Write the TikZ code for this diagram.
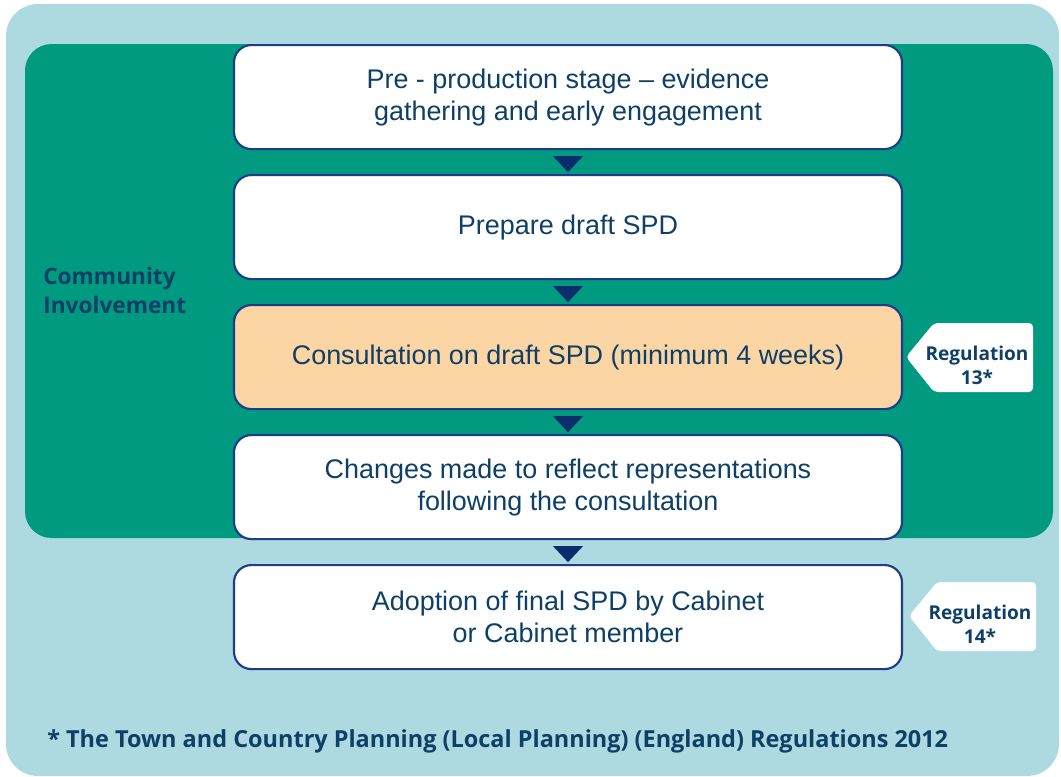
\documentclass[tikz,border=0pt]{standalone}
\usepackage{fontspec}
\setmainfont{Liberation Sans}
\newfontfamily\boldsans{Open Sans}
\usetikzlibrary{calc}
\definecolor{lightbg}{HTML}{ADD9E1}
\definecolor{greenbg}{HTML}{009A80}
\definecolor{navy}{HTML}{1F3C88}
\definecolor{trinavy}{HTML}{0B2D6E}
\definecolor{txtblue}{HTML}{0E3F66}
\definecolor{orangefill}{HTML}{FCD5A5}
\tikzset{
  stepbox/.style={draw=navy, line width=1.6pt, rounded corners=13pt, fill=white,
    minimum width=668*0.75pt, minimum height=104*0.75pt, align=center,
    text=txtblue, font=\fontsize{20.2}{24}\selectfont, anchor=north},
  tri/.style={fill=trinavy},
  tagshape/.style={fill=white, rounded corners=3pt},
  tagtext/.style={text=txtblue, font=\boldsans\bfseries\fontsize{14.3}{18}\selectfont, align=center},
}
\begin{document}
\begin{tikzpicture}[x=0.75pt, y=-0.75pt]
\useasboundingbox (0,0) rectangle (1061,776);
\fill[lightbg, rounded corners=24pt] (6,4) rectangle (1059,776);
\fill[greenbg, rounded corners=20pt] (25,44) rectangle (1053,538);
\node[stepbox] (b1) at (568,44) {Pre - production stage -- evidence\\gathering and early engagement};
\node[stepbox] (b2) at (568,174) {Prepare draft SPD};
\node[stepbox, fill=orangefill] (b3) at (568,304) {Consultation on draft SPD (minimum 4 weeks)};
\node[stepbox] (b4) at (568,434) {Changes made to reflect representations\\following the consultation};
\node[stepbox] (b5) at (568,564) {Adoption of final SPD by Cabinet\\or Cabinet member};
\foreach \a/\b in {b1/b2,b2/b3,b3/b4,b4/b5}{
  \fill[tri] ($(\a.south)+(-15,6)$) -- ++(30,0) -- ++(-15,16) -- cycle;
}
\node[anchor=north west, align=left, text=txtblue, font=\boldsans\bfseries\fontsize{17}{22}\selectfont, inner sep=0pt] (ci) at (43,267) {Community\\Involvement};
% tags
\coordinate (t13) at (906,357);
\fill[tagshape] (t13) -- (934,323) -- (1033,323) -- (1033,392) -- (934,392) -- cycle;
\node[tagtext] (r13) at (977,365) {Regulation\\13*};
\coordinate (t14) at (909,616);
\fill[tagshape] (t14) -- (937,582) -- (1036,582) -- (1036,651) -- (937,651) -- cycle;
\node[tagtext] (r14) at (980,624) {Regulation\\14*};
\node[anchor=west, text=txtblue, font=\boldsans\bfseries\fontsize{17.6}{20}\selectfont, inner sep=0pt] (foot) at (47,741) {* The Town and Country Planning (Local Planning) (England) Regulations 2012};
\end{tikzpicture}
\end{document}
